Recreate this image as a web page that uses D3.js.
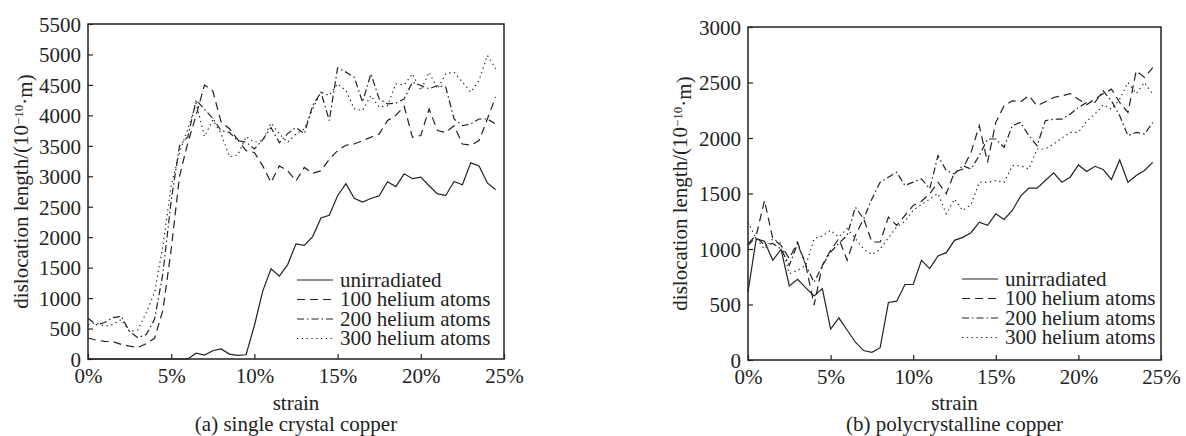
<!DOCTYPE html>
<html>
<head>
<meta charset="utf-8">
<script src="https://cdn.jsdelivr.net/npm/d3@7"></script>
<style>
  body { margin: 0; background: #fff; }
  svg { display: block; }
  svg text { font-family: "Liberation Serif", "Times New Roman", Times, "DejaVu Serif", serif !important; fill: #222; }
</style>
</head>
<body>
<svg id="chart"></svg>
<script>
// strain in percent, one sample every 0.5 %
var strain = [0, 0.5, 1, 1.5, 2, 2.5, 3, 3.5, 4, 4.5, 5, 5.5, 6, 6.5, 7, 7.5, 8, 8.5, 9, 9.5,
  10, 10.5, 11, 11.5, 12, 12.5, 13, 13.5, 14, 14.5, 15, 15.5, 16, 16.5, 17, 17.5, 18, 18.5, 19, 19.5,
  20, 20.5, 21, 21.5, 22, 22.5, 23, 23.5, 24, 24.5];

var seriesNames = ['unirradiated', '100 helium atoms', '200 helium atoms', '300 helium atoms'];

// (a) single crystal copper
var singleUnirr = [0, 0, 0, 0, 0, 0, 0, 0, 0, 0, 0, 0, 0, 95, 65, 135, 165, 80, 60, 70,
  550, 1115, 1480, 1360, 1550, 1890, 1865, 2010, 2315, 2360, 2680, 2880, 2640, 2575, 2635, 2680, 2910, 2830, 3040, 2960,
  2985, 2845, 2710, 2685, 2915, 2860, 3220, 3170, 2890, 2780];
var single100 = [345, 310, 290, 285, 240, 210, 190, 250, 340, 800, 1800, 3000, 3550, 4000, 4500, 4400, 3890, 3780, 3600, 3420,
  3390, 3170, 2900, 3170, 3090, 2925, 3145, 3050, 3090, 3280, 3420, 3510, 3530, 3585, 3640, 3695, 3915, 4000, 4150, 3640,
  3670, 4105, 3750, 3720, 3830, 3530, 3510, 3585, 3940, 4300];
var single200 = [670, 560, 600, 680, 700, 450, 350, 400, 650, 1400, 2600, 3500, 3650, 4250, 4100, 3950, 3750, 3720, 3585, 3560,
  3450, 3600, 3800, 3550, 3700, 3800, 3700, 4160, 4380, 3915, 4780, 4710, 4628, 4216, 4683, 4270, 4189, 4200, 4270, 4545,
  4490, 4436, 4490, 4463, 3940, 3830, 3860, 3940, 3940, 3860];
var single300 = [565, 590, 540, 565, 650, 455, 480, 760, 1090, 1855, 2845, 3390, 3777, 4200, 3650, 3925, 3700, 3320, 3350, 3650,
  3560, 3585, 3875, 3695, 3560, 3695, 3777, 4107, 4380, 4326, 4518, 4408, 4107, 4080, 4326, 4134, 4160, 4518, 4500, 4683,
  4408, 4710, 4436, 4683, 4710, 4545, 4380, 4573, 4985, 4765];

// (b) polycrystalline copper
var polyUnirr = [614, 1093, 1069, 898, 997, 668, 727, 650, 578, 644, 278, 380, 270, 160, 85, 69, 111, 518, 530, 680,
  680, 898, 823, 937, 967, 1078, 1105, 1147, 1242, 1213, 1317, 1266, 1347, 1476, 1548, 1548, 1617, 1686, 1602, 1647,
  1757, 1698, 1745, 1716, 1626, 1802, 1602, 1662, 1707, 1781];
var poly100 = [1048, 1123, 1437, 1093, 1033, 913, 1063, 853, 494, 853, 988, 1093, 898, 1123, 1272, 1063, 1063, 1287, 1212, 1302,
  1392, 1430, 1497, 1602, 1497, 1692, 1721, 1871, 2111, 1781, 2141, 2290, 2335, 2326, 2380, 2290, 2326, 2365, 2380, 2400,
  2350, 2300, 2350, 2400, 2440, 2320, 2230, 2605, 2545, 2635];
var poly200 = [1033, 1108, 1033, 1050, 1000, 853, 1048, 853, 700, 850, 973, 1050, 1123, 1377, 1272, 1450, 1602, 1647, 1692, 1572,
  1602, 1632, 1542, 1841, 1707, 1677, 1751, 1721, 1841, 1991, 1991, 1916, 2111, 2141, 2021, 1931, 2156, 2170, 2170, 2215,
  2275, 2320, 2320, 2425, 2335, 2200, 2021, 2051, 2036, 2141];
var poly300 = [1243, 1093, 1000, 1093, 1050, 778, 808, 853, 1093, 1117, 1168, 1108, 1183, 1093, 1000, 950, 1000, 1100, 1200, 1250,
  1350, 1400, 1450, 1500, 1317, 1450, 1347, 1400, 1602, 1600, 1617, 1600, 1751, 1750, 1721, 1901, 1901, 1946, 2000, 2050,
  2051, 2150, 2215, 2300, 2260, 2350, 2500, 2400, 2500, 2395];

var xTicks = [0, 5, 10, 15, 20, 25];
var singleYTicks = [0, 500, 1000, 1500, 2000, 2500, 3000, 3500, 4000, 4500, 5000, 5500];
var polyYTicks = [0, 500, 1000, 1500, 2000, 2500, 3000];

var dashes = ['none', '8,5', '7,3,1.5,3', '1.3,3.5'];
var ink = '#222';
var serif = '"Liberation Serif", "Times New Roman", Times, "DejaVu Serif", serif';
var fs = '21px';

var width = 1186;
var height = 436;

var svg = d3.select('#chart')
    .attr('width', width)
    .attr('height', height)
    .attr('font-family', serif);

drawPanel({
    left: 88, right: 504, top: 24, bottom: 359,
    yMax: 5500, yTicks: singleYTicks,
    series: [singleUnirr, single100, single200, single300],
    legendX: 297, legendY: 280,
    caption: '(a) single crystal copper',
    labelX: 21
});

drawPanel({
    left: 748, right: 1161, top: 27, bottom: 360,
    yMax: 3000, yTicks: polyYTicks,
    series: [polyUnirr, poly100, poly200, poly300],
    legendX: 962, legendY: 279,
    caption: '(b) polycrystalline copper',
    labelX: 680
});

function drawPanel(cfg) {
    var x = d3.scaleLinear().domain([0, 25]).range([cfg.left, cfg.right]);
    var y = d3.scaleLinear().domain([0, cfg.yMax]).range([cfg.bottom, cfg.top]);
    var g = svg.append('g');

    // lines
    var line = d3.line()
        .x(function (d, i) { return x(strain[i]); })
        .y(function (d) { return y(d); });

    g.selectAll('path.series')
        .data(cfg.series)
        .enter()
        .append('path')
        .attr('class', 'series')
        .attr('fill', 'none')
        .attr('stroke', ink)
        .attr('stroke-width', 1.2)
        .attr('stroke-dasharray', function (d, i) { return dashes[i]; })
        .attr('d', line);

    // axes, ticks pointing inward
    var xAxis = g.append('g')
        .attr('transform', 'translate(0,' + cfg.bottom + ')')
        .call(d3.axisBottom(x).tickValues(xTicks).tickSize(-5).tickPadding(9)
            .tickFormat(function (d) { return d + '%'; }));
    var yAxis = g.append('g')
        .attr('transform', 'translate(' + cfg.left + ',0)')
        .call(d3.axisLeft(y).tickValues(cfg.yTicks).tickSize(-5).tickPadding(7)
            .tickFormat(d3.format('d')));

    [xAxis, yAxis].forEach(function (a) {
        a.attr('font-family', serif);
        a.select('.domain').remove();
        a.selectAll('line').attr('stroke', ink).attr('stroke-width', 1.2);
        a.selectAll('text').style('font-size', fs).style('font-family', serif).attr('fill', ink);
    });
    xAxis.selectAll('text').attr('dy', '0.71em');
    yAxis.selectAll('text').attr('dy', '0.35em');

    // frame
    g.append('rect')
        .attr('x', cfg.left)
        .attr('y', cfg.top)
        .attr('width', cfg.right - cfg.left)
        .attr('height', cfg.bottom - cfg.top)
        .attr('fill', 'none')
        .attr('stroke', ink)
        .attr('stroke-width', 1.5);

    // legend
    var leg = g.selectAll('g.leg')
        .data(seriesNames)
        .enter()
        .append('g')
        .attr('class', 'leg')
        .attr('transform', function (d, i) {
            return 'translate(' + cfg.legendX + ',' + (cfg.legendY + i * 19.5) + ')';
        });
    leg.append('line')
        .attr('x1', 0).attr('x2', 36)
        .attr('stroke', ink)
        .attr('stroke-width', 1.2)
        .attr('stroke-dasharray', function (d, i) { return dashes[i]; });
    leg.append('text')
        .attr('x', 43)
        .attr('dy', '0.33em')
        .style('font-size', fs)
        .style('font-family', serif)
        .text(function (d) { return d; });

    var cx = (cfg.left + cfg.right) / 2;

    // axis titles and caption
    g.append('text')
        .attr('x', cx).attr('y', 410)
        .attr('text-anchor', 'middle')
        .style('font-size', fs)
        .style('font-family', serif)
        .text('strain');
    g.append('text')
        .attr('x', cx).attr('y', 431)
        .attr('text-anchor', 'middle')
        .style('font-size', fs)
        .style('font-family', serif)
        .text(cfg.caption);

    var yl = g.append('text')
        .attr('transform', 'translate(' + cfg.labelX + ',' + ((cfg.top + cfg.bottom) / 2) + ') rotate(-90)')
        .attr('text-anchor', 'middle')
        .attr('dy', '0.35em')
        .style('font-size', fs)
        .style('font-family', serif);
    yl.append('tspan').text('dislocation length/(10');
    yl.append('tspan').attr('dy', '-0.45em').style('font-size', '13px').text('\u221210');
    yl.append('tspan').attr('dy', '0.45em').text('\u00b7m)');
}
</script>
</body>
</html>
